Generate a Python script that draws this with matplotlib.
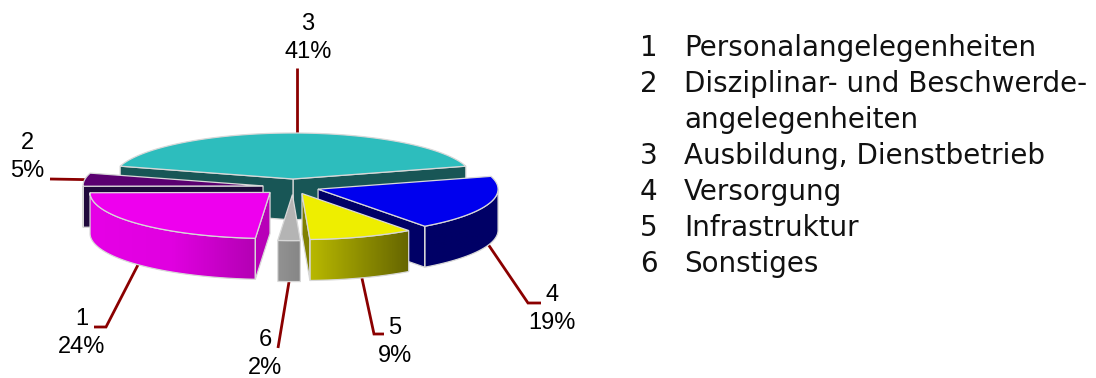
import numpy as np
import matplotlib
matplotlib.use('Agg')
import matplotlib.pyplot as plt
from matplotlib.colors import LinearSegmentedColormap
from matplotlib.patches import Polygon

# slices in drawing order, back to front
ids = ['3', '2', '4', '5', '6', '1']
shares = [41.0, 4.6, 19.4, 9.4, 2.0, 23.6]
pct_labels = ['41%', '5%', '19%', '9%', '2%', '24%']
explode = [0.174, 0.168, 0.147, 0.15, 0.165, 0.174]

legend_nums = ['1', '2', '', '3', '4', '5', '6']
legend_txt = ['Personalangelegenheiten', 'Disziplinar- und Beschwerde-', 'angelegenheiten',
              'Ausbildung, Dienstbetrieb', 'Versorgung', 'Infrastruktur', 'Sonstiges']

top_col = {'3': '#2dbdbd', '2': '#5a0070', '4': '#0000ee', '5': '#eeee00', '6': '#b4b4b4', '1': '#ee00ee'}
wall_col = {'3': '#185656', '2': '#200a3c', '4': '#000066', '5': '#808000', '6': '#8c8c8c', '1': '#b800b8'}
arc_col = {'3': ('#185656', '#185656'), '2': ('#200a3c', '#200a3c'), '4': ('#000066', '#000066'),
           '5': ('#b8b800', '#666600'), '6': ('#929292', '#868686'), '1': ('#e600e6', '#e000e0', '#b400b4')}

# order of the slices around the pie, counterclockwise from teal
ring = ['3', '2', '1', '6', '5', '4']
start = 16.2
CX, CY = 293, 187
RX, RY = 180, 46
DEPTH = 41
EDGE = '#d8d8d8'
LEAD = '#8b0000'

share = dict(zip(ids, shares))
angles = {}
a = start
for k in ring:
    angles[k] = (a, a + share[k] * 3.6)
    a += share[k] * 3.6


def pt(tip, ang):
    r = np.radians(ang)
    return tip[0] + RX * np.cos(r), tip[1] - RY * np.sin(r)


def tip_of(k, e):
    a0, a1 = angles[k]
    mid = (a0 + a1) / 2
    return pt((CX + 0, CY), mid)[0] * e + CX * (1 - e), pt((CX, CY), mid)[1] * e + CY * (1 - e)


fig = plt.figure(figsize=(10.96, 3.78), dpi=100)
ax = fig.add_axes([0, 0, 1, 1])
ax.set_xlim(0, 1096)
ax.set_ylim(378, 0)
ax.axis('off')


def draw_arc_wall(k, tip, a0, a1):
    th = np.arange(a0, a1, 1.0).tolist() + [a1]
    upper = [pt(tip, t) for t in th]
    lower = [(x, y + DEPTH) for x, y in upper]
    poly = Polygon(upper + lower[::-1], closed=True, fc='none', ec=EDGE, lw=0.9, zorder=2)
    ax.add_patch(poly)
    xs = [p[0] for p in upper]
    ys = [p[1] for p in upper + lower]
    cm = LinearSegmentedColormap.from_list('g', arc_col[k])
    im = ax.imshow(np.linspace(0, 1, 64).reshape(1, -1), cmap=cm, aspect='auto',
                   extent=(min(xs), max(xs), max(ys), min(ys)), zorder=1.5)
    im.set_clip_path(poly)


def draw_slice(k, e):
    a0, a1 = angles[k]
    tip = tip_of(k, e)
    # radial walls, only the ones facing the viewer
    if np.sin(np.radians(a0 - 90)) < 0:
        p = pt(tip, a0)
        ax.add_patch(Polygon([tip, p, (p[0], p[1] + DEPTH), (tip[0], tip[1] + DEPTH)],
                             fc=wall_col[k], ec=EDGE, lw=0.9, zorder=2))
    if np.sin(np.radians(a1 + 90)) < 0:
        p = pt(tip, a1)
        ax.add_patch(Polygon([tip, p, (p[0], p[1] + DEPTH), (tip[0], tip[1] + DEPTH)],
                             fc=wall_col[k], ec=EDGE, lw=0.9, zorder=2))
    f0, f1 = max(a0, 180), min(a1, 360)
    if f1 > f0:
        draw_arc_wall(k, tip, f0, f1)
    th = np.arange(a0, a1, 1.0).tolist() + [a1]
    ax.add_patch(Polygon([tip] + [pt(tip, t) for t in th], fc=top_col[k], ec=EDGE, lw=0.9, zorder=3))


# leader lines go from the middle of each slice's rim to the label
lead_shift = {'3': 4, '2': 0, '1': 0, '6': 0, '5': 0, '4': 0}
lead_to = {'3': [(297, 68)], '2': [(50, 179)], '1': [(106, 327), (94, 327)], '6': [(278, 348)],
           '5': [(374, 334), (384, 334)], '4': [(528, 303), (541, 303)]}
label_xy = {'3': (308, 24), '2': (27, 143), '1': (82, 319), '6': (265, 340), '5': (395, 328), '4': (552, 295)}

for k, e in zip(ids, explode):
    # each slice gets its own layer so later ones cover the earlier ones
    base = len(ax.patches)
    nim = len(ax.images)
    draw_slice(k, e)
    order = ids.index(k) * 10
    for art in ax.patches[base:]:
        art.set_zorder(art.get_zorder() + order)
    for art in ax.images[nim:]:
        art.set_zorder(art.get_zorder() + order)

for k, e, lab in zip(ids, explode, pct_labels):
    a0, a1 = angles[k]
    mid = (a0 + a1) / 2
    sx, sy = pt(tip_of(k, e), mid)
    if np.sin(np.radians(mid)) < 0:
        sy += DEPTH
    pts = [(sx + lead_shift[k], sy)] + lead_to[k]
    ax.plot([p[0] for p in pts], [p[1] for p in pts], color=LEAD, lw=2, zorder=1,
            solid_joinstyle='miter', solid_capstyle='butt')
    lx, ly = label_xy[k]
    ax.text(lx, ly, k, ha='center', va='center', fontsize=17, family='Liberation Sans', color='black')
    ax.text(lx, ly + 28, lab, ha='center', va='center', fontsize=17, family='Liberation Sans', color='black')

for i, (n, t) in enumerate(zip(legend_nums, legend_txt)):
    y = 48 + i * 36
    if n:
        ax.text(640, y, n, ha='left', va='center', fontsize=20, family='DejaVu Sans', color='#111111')
    ax.text(684, y, t, ha='left', va='center', fontsize=20, family='DejaVu Sans', color='#111111')

ax.set_xlim(0, 1096)
ax.set_ylim(378, 0)
fig.savefig('out.png', dpi=100)
